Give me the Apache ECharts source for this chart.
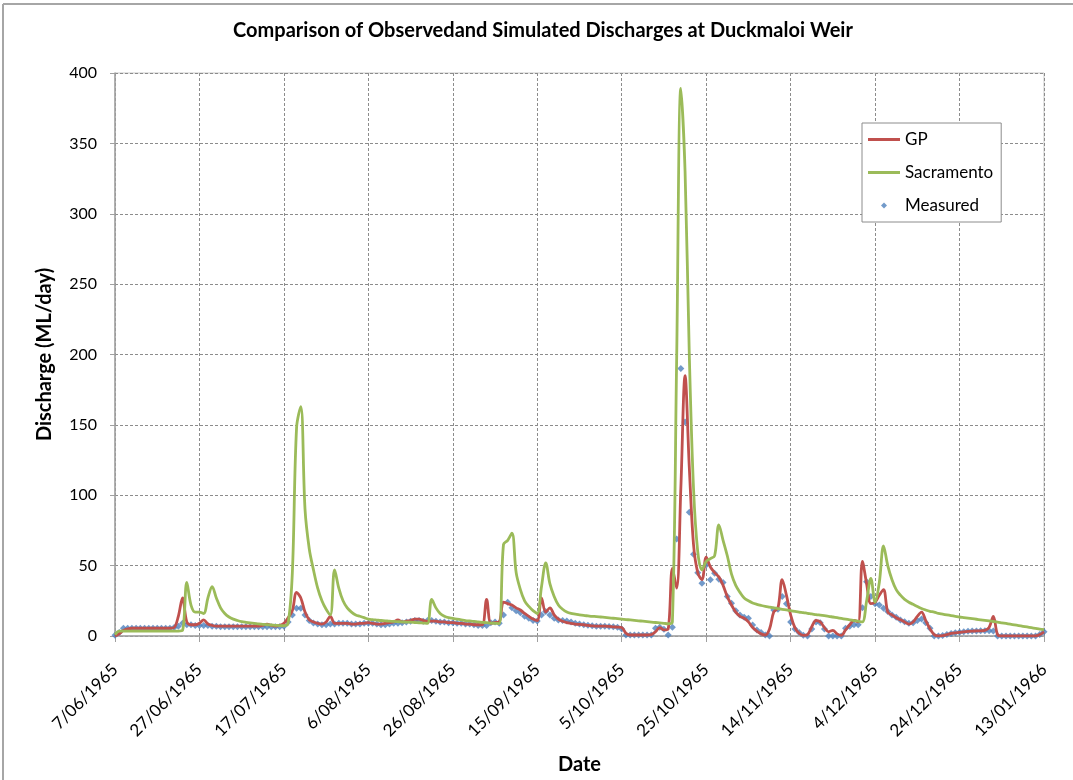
<!DOCTYPE html>
<html>
<head>
<meta charset="utf-8">
<script src="https://cdn.jsdelivr.net/npm/echarts@6/dist/echarts.min.js"></script>
<style>
html,body{margin:0;padding:0;background:#fff;}
#chart{width:1073px;height:780px;}
</style>
</head>
<body>
<div id="chart"></div>
<script>
// Daily dates 7/06/1965 .. 13/01/1966 (221 days)
const startDate = [1965, 5, 7];
const dayCount = 221;
const categories = [];
for (let i = 0; i < dayCount; i++) {
  const d = new Date(Date.UTC(startDate[0], startDate[1], startDate[2] + i));
  const mm = String(d.getUTCMonth() + 1).padStart(2, '0');
  categories.push(d.getUTCDate() + '/' + mm + '/' + d.getUTCFullYear());
}

const gpValues = [
  0,1.5,4,5,5.5,5.5,5.5,5.5,5.5,5.5, 5.5,5.5,5.5,5.5,6,14,27,10,8,8,
  9,11.5,8.5,7.5,7,7,7,7,7,7, 7,7,7,7,7,7.5,8.5,7.5,7,7.5,
  9,13,18,31,27,17,11.5,10,9,8.5, 10,14,9,9,9,9,8.5,8.5,9,9,
  9.5,9,8.5,8.5,9,9.5,10,11.5,10,10.5, 11,12,12,11,10.5,10.5,10.5,10,10,9.5,
  9.5,9,9,8.5,8.5,8,8,8,26,9, 9.5,10,24,23,22,20,18.5,16,14,12,
  11,27,17,20,15,12,10.5,9.5,9,8.5, 8.2,8,7.5,7.2,7,7,7,6.8,6.5,6.3,
  6,2,0.7,0.7,0.7,0.7,0.7,1,3,6, 4.3,5,48,34,105,185,120,65,45,40,
  56,49,45,42,36,28,22,17,14,12.6, 10,6,3.5,1.5,0.7,5,17,20,40,29,
  15,6,2,0.5,1,6.6,11,10,6,3, 4,1.5,0.5,4.3,8,11,10,53,37,23,
  24,29,33,17,15,13,11.5,10,8.5,10, 14,17,11,5,1,0,0.3,1,1.8,2.3,
  2.6,3,3.3,3.5,3.6,3.7,4,6,14,1, 0,0,0,0,0,0,0,0,0,1,
  3
];

const sacramentoValues = [
  1,3.5,3.5,3.5,3.5,3.5,3.5,3.5,3.5,3.5, 3.5,3.5,3.5,3.5,3.5,3.5,4,38,22,17,
  17,16,27,35,27,20,16,13.5,12,11, 10.2,9.7,9.3,9,8.6,8.3,8,7.8,7.6,7.4,
  7.3,9,45,148,163,90,62,47,34,25, 19,15,47,34,25,20,17,15,14,13,
  12,11.6,11.3,11,10.8,10.5,10.4,10.2,10,9.9, 9.8,9.6,9.4,9.2,9,26,20,16,14,13,
  12.5,12,11.5,11,10.7,10.4,10,9.7,9.5,9.2, 9,8.8,65,68,73,45,33,25,21,18,
  16,35,52,37,28,22,19,17,16,15.5, 15,14.6,14.3,14,13.8,13.5,13.2,12.9,12.6,12.3,
  12,11.7,11.4,11.1,10.8,10.5,10.2,9.9,9.6,9.3, 9,8.7,10,195,389,330,200,105,60,47,
  53,55,57,79,68,57,44,36,31,27, 25,23.5,22.5,21.7,21,20.5,20,19.5,19,18.5,
  18,17.5,17,16.6,16.1,15.7,15.2,14.8,14.4,14, 13.5,13,12.5,12,11.5,11,10.5,10,25,41,
  24,38,64,50,40,33,29,26,24,22.5, 21,19.5,18.5,17.5,17,16,15.5,15,14.5,14,
  13.5,13.1,12.7,12.3,11.9,11.5,11.1,10.7,10.3,9.9, 9.4,8.9,8.4,7.9,7.4,6.9,6.4,5.9,5.4,4.9,
  4.5
];

const measuredValues = [
  0.5,2.5,5.5,5.5,5.5,5.5,5.5,5.5,5.5,5.5, 5.5,5.5,5.5,5.5,6,7,9,8,8,7.5,
  7.5,7.5,7.5,7,7,6.5,6.5,6.5,6.5,6.5, 6.5,6.5,6.5,6.5,6.5,6.5,6.5,6.5,6.5,6.6,
  7,10,15,19.7,19.7,15,11,9.3,8.5,8, 8,8.5,8.5,9,9,9,8.5,8.5,8.5,9,
  9,9,8.5,8,8,8.5,9,9,9.5,10, 10.5,11,11,10.5,11,11,10.5,10,10,9.5,
  9.5,9,9,8.5,8.5,8,7.5,7.5,7.5,9.5, 10,9,15,24,20,18,16.5,14,12.6,11,
  10.6,15,17.4,15,12.6,11.4,11,10.6,10,9, 8.5,8,7.6,7.2,7,7,7,6.8,6.5,6.3,
  5,0.7,0.7,0.7,0.7,0.7,0.7,0.7,5.5,6.2, 4.8,0.7,6.2,69,190,152,88,58,45,37.5,
  50.5,40,44.5,40.3,38,28,23.3,18,15,13.3, 12.6,7.8,4.3,2.4,0.7,0,18.5,19,28,23,
  10,5,2.4,0.5,0,5,10,9.5,5,0, 0,0,0,5.5,7,8,8,20,38.6,28,
  23,22,19.7,17.4,15,13.3,11.4,10.2,9,9.5, 11,12,9.5,5.5,0,0,0.3,1,1.8,2.3,
  2.6,3,3.3,3.5,3.6,3.7,3.7,3.7,3.5,0, 0,0,0,0,0,0,0,0,0,1,
  3
];

const yTicks = { min: 0, max: 400, interval: 50 };
const labelEvery = 20;

const FONT = 'Lato, "Open Sans", sans-serif';
const chart = echarts.init(document.getElementById('chart'), null, { renderer: 'canvas' });

chart.setOption({
  animation: false,
  backgroundColor: '#ffffff',
  graphic: [
    { type: 'line', shape: { x1: 3, y1: 4, x2: 1073, y2: 4 }, style: { stroke: '#a6a6a6', lineWidth: 2 }, silent: true },
    { type: 'line', shape: { x1: 3, y1: 4, x2: 3, y2: 780 }, style: { stroke: '#a6a6a6', lineWidth: 2 }, silent: true },
    { type: 'text', x: 543, y: 31, style: { text: 'Comparison of Observedand Simulated Discharges at Duckmaloi Weir', font: 'bold 20px ' + FONT, fill: '#000', textAlign: 'center', textVerticalAlign: 'middle' }, silent: true }
  ],
  legend: {
    orient: 'vertical',
    left: 862,
    top: 123,
    padding: [8, 8, 8, 6],
    itemGap: 16,
    itemWidth: 32,
    itemHeight: 6,
    symbolKeepAspect: true,
    backgroundColor: '#ffffff',
    borderColor: '#8c8c8c',
    borderWidth: 1,
    itemStyle: { borderWidth: 0 },
    textStyle: { fontFamily: FONT, fontSize: 17, color: '#000', lineHeight: 17 },
    data: [
      { name: 'GP', icon: 'path://M0,0H32V3H0Z' },
      { name: 'Sacramento', icon: 'path://M0,0H32V3H0Z' },
      { name: 'Measured', icon: 'path://M4,0L8,4L4,8L0,4Z' }
    ]
  },
  grid: { left: 115, right: 29, top: 73, bottom: 144, show: true, borderColor: '#c8c8c8', borderWidth: 1 },
  xAxis: {
    type: 'category',
    data: categories,
    boundaryGap: false,
    name: 'Date',
    nameLocation: 'middle',
    nameGap: 119,
    nameTextStyle: { fontFamily: FONT, fontSize: 20, fontWeight: 'bold', color: '#000' },
    axisLine: { lineStyle: { color: '#a0a0a0', width: 1.5 } },
    axisTick: { show: true, interval: labelEvery - 1, length: 6, lineStyle: { color: '#a0a0a0' } },
    axisLabel: { interval: labelEvery - 1, rotate: 45, margin: 31, fontFamily: FONT, fontSize: 17, color: '#000' },
    splitLine: { show: true, interval: labelEvery - 1, lineStyle: { color: '#8c8c8c', type: [3, 2], width: 1 } }
  },
  yAxis: {
    type: 'value',
    min: yTicks.min,
    max: yTicks.max,
    interval: yTicks.interval,
    name: 'Discharge (ML/day)',
    nameLocation: 'middle',
    nameGap: 60,
    nameTextStyle: { fontFamily: FONT, fontSize: 20, fontWeight: 'bold', color: '#000' },
    axisLine: { show: true, lineStyle: { color: '#a0a0a0', width: 1.5 } },
    axisTick: { show: true, length: 5, lineStyle: { color: '#a0a0a0' } },
    axisLabel: { margin: 18, fontFamily: FONT, fontSize: 16, color: '#000' },
    splitLine: { show: true, lineStyle: { color: '#8c8c8c', type: [3, 2], width: 1 } }
  },
  series: [
    {
      name: 'GP', type: 'line', data: gpValues, smooth: 0.35, symbol: 'none',
      itemStyle: { color: '#C0504D' },
      lineStyle: { color: '#C0504D', width: 2.8 }
    },
    {
      name: 'Sacramento', type: 'line', data: sacramentoValues, smooth: 0.35, symbol: 'none',
      itemStyle: { color: '#9BBB59' },
      lineStyle: { color: '#9BBB59', width: 2.8 }
    },
    {
      name: 'Measured', type: 'scatter', data: measuredValues, symbol: 'diamond', symbolSize: 7,
      itemStyle: { color: '#4F81BD' }
    }
  ]
});
</script>
</body>
</html>
